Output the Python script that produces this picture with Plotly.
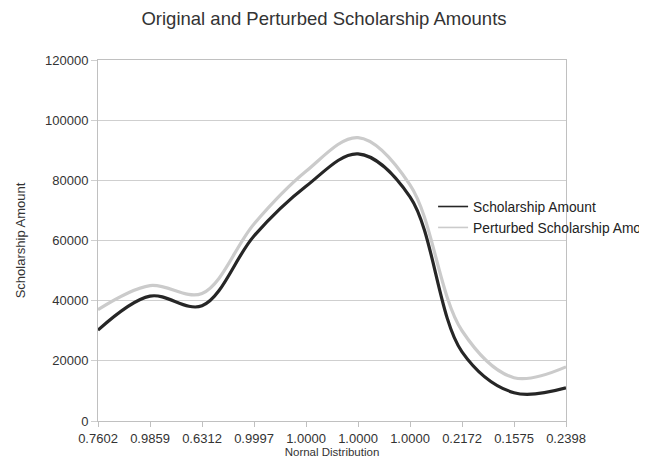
import plotly.graph_objects as go

# Tick labels (categories; note "1.0000" repeats, so positions are indices)
tick_labels = ["0.7602", "0.9859", "0.6312", "0.9997", "1.0000",
               "1.0000", "1.0000", "0.2172", "0.1575", "0.2398"]
positions = list(range(len(tick_labels)))

scholarship = [30200, 41500, 38300, 61500, 78000, 88800, 74500, 23000, 9400, 11000]
perturbed = [37000, 45000, 42400, 65500, 83000, 94200, 78500, 30000, 14400, 18000]

y_ticks = [0, 20000, 40000, 60000, 80000, 100000, 120000]

series_names = ["Scholarship Amount", "Perturbed Scholarship Amount"]
series_colors = ["#262626", "#cbcbcb"]

FONT = "Liberation Sans, Arial, sans-serif"

# The figure is wider than the 647px window on purpose: the legend text runs
# past the right edge and is cut off there, as in the reference.
W, H = 700, 457

fig = go.Figure()
for vals, name, color in zip([scholarship, perturbed], series_names, series_colors):
    fig.add_trace(go.Scatter(
        x=positions, y=vals, mode="lines", name=name, showlegend=False,
        legendgroup=name,
        line=dict(color=color, width=3.2, shape="spline", smoothing=1.0),
    ))
# legend entries with the thin sample lines of the reference
for name, color in zip(series_names, series_colors):
    fig.add_trace(go.Scatter(
        x=[None], y=[None], mode="lines", name=name, legendgroup=name,
        line=dict(color=color, width=1.6), hoverinfo="skip",
    ))

fig.update_layout(
    width=W, height=H,
    margin=dict(l=90, r=W - 558, t=52, b=44),
    paper_bgcolor="white", plot_bgcolor="white",
    font=dict(family=FONT, color="#333333"),
    title=dict(text="Original and Perturbed Scholarship Amounts",
               x=316 / W, xanchor="center", y=0.978, yanchor="middle",
               font=dict(size=18.5, color="#333333", family=FONT)),
    showlegend=True,
    legend=dict(x=0.716, xanchor="left", y=0.565, yanchor="middle",
                bgcolor="rgba(0,0,0,0)", font=dict(size=13.8, color="#222222"),
                itemwidth=30, tracegroupgap=0),
    xaxis=dict(
        range=[0, 9], tickmode="array", tickvals=positions, ticktext=tick_labels,
        showgrid=False, zeroline=False, automargin=False,
        showline=True, linecolor="#c0c0c0", linewidth=1, mirror=True,
        ticks="outside", ticklen=5, tickcolor="#c0c0c0",
        tickfont=dict(size=13, color="#333333"),
        title=dict(text="Nornal Distribution", font=dict(size=11.5, color="#333333"),
                   standoff=0),
    ),
    yaxis=dict(
        range=[0, 120000], tickmode="array", tickvals=y_ticks, tickformat="d",
        showgrid=True, gridcolor="#cfcfcf", gridwidth=1, zeroline=False,
        automargin=False,
        showline=True, linecolor="#c0c0c0", linewidth=1, mirror=True,
        ticks="outside", ticklen=6, tickcolor="#cfcfcf",
        tickfont=dict(size=13, color="#333333"),
        title=dict(text="Scholarship Amount", font=dict(size=13, color="#333333"),
                   standoff=16),
    ),
)

fig.write_html("out.html")
